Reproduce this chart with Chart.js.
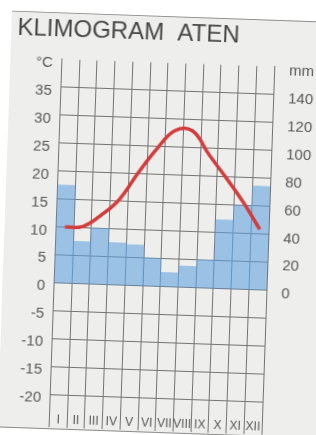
<!DOCTYPE html>
<html>
<head>
<meta charset="utf-8">
<script src="https://cdn.jsdelivr.net/npm/chart.js@4.4.0/dist/chart.umd.min.js"></script>
<style>
  html, body { margin: 0; padding: 0; background: #ffffff; overflow: hidden; }
  #page { position: absolute; left: 0; top: 0; width: 316px; height: 435px;
          transform: rotate(2deg); transform-origin: 162px 245px; }
  #paper { position: absolute; left: 4px; top: 16px; width: 340px; height: 415px;
           background: #eeeeec; border-top: 1px solid #8c8c8c; border-bottom: 1px solid #8c8c8c; }
  #klimogram { position: absolute; left: 0; top: 0; }
</style>
</head>
<body>
<div id="page">
  <div id="paper"></div>
  <canvas id="klimogram" width="316" height="435"></canvas>
</div>
<script>
// Athens climate diagram
const months = ['I', 'II', 'III', 'IV', 'V', 'VI', 'VII', 'VIII', 'IX', 'X', 'XI', 'XII'];
const temperature = [10, 10.2, 12.3, 15.2, 20, 24.4, 27.9, 28, 23.8, 19.8, 15.6, 10.8]; // °C
const precipitation = [70, 30, 40, 30, 29, 20, 10, 15, 20, 49, 60, 74]; // mm

const tempTicks = [-20, -15, -10, -5, 0, 5, 10, 15, 20, 25, 30, 35];
const rainTicks = [0, 20, 40, 60, 80, 100, 120, 140];
const tempUnit = '°C';
const rainUnit = 'mm';

const gridColor = '#737373';
const textColor = '#585858';
const tickFont = { family: "'Liberation Sans', Arial, sans-serif", size: 15 };

new Chart(document.getElementById('klimogram').getContext('2d'), {
    type: 'bar',
    data: {
        labels: months,
        datasets: [{
            type: 'line',
            label: 'temperatura',
            data: temperature,
            yAxisID: 'y',
            borderColor: '#d43c3c',
            borderWidth: 3.5,
            tension: 0.4,
            pointRadius: 0,
            order: 0
        }, {
            type: 'bar',
            label: 'padavine',
            data: precipitation,
            yAxisID: 'y2',
            backgroundColor: 'rgba(95, 160, 222, 0.58)',
            borderWidth: 0,
            barPercentage: 1,
            categoryPercentage: 1,
            order: 1
        }]
    },
    options: {
        responsive: false,
        animation: false,
        devicePixelRatio: 1,
        layout: { padding: { left: 10, top: 0, right: 0, bottom: 0 } },
        plugins: {
            legend: { display: false },
            tooltip: { enabled: false },
            title: {
                display: true,
                text: 'KLIMOGRAM  ATEN',
                align: 'start',
                color: '#464646',
                font: { family: "'Liberation Sans', Arial, sans-serif", size: 24, weight: 'normal' },
                padding: { top: 19, bottom: 15 }
            }
        },
        scales: {
            x: {
                grid: { color: gridColor, offset: true, drawTicks: true, tickLength: 33 },
                border: { color: gridColor },
                ticks: {
                    color: textColor,
                    font: { family: "'Liberation Sans', Arial, sans-serif", size: 12 },
                    padding: -15,
                    maxRotation: 0,
                    autoSkip: false
                },
                afterFit(s) { s.height = 37; }
            },
            y: {
                position: 'left',
                min: -20,
                max: 40,
                afterBuildTicks(s) { s.ticks = tempTicks.concat([40]).map(v => ({ value: v })); },
                ticks: {
                    color: textColor,
                    font: tickFont,
                    padding: 9,
                    labelOffset: 4,
                    callback: v => (v === 40 ? tempUnit : v)
                },
                grid: {
                    color: ctx => (ctx.tick && ctx.tick.value === 40 ? 'rgba(0,0,0,0)' : gridColor),
                    drawTicks: false
                },
                border: { color: gridColor },
                afterFit(s) { s.width = 45.5; }
            },
            y2: {
                position: 'right',
                min: -80,
                max: 160,
                afterBuildTicks(s) { s.ticks = rainTicks.concat([160]).map(v => ({ value: v })); },
                ticks: {
                    color: textColor,
                    font: tickFont,
                    padding: 7,
                    labelOffset: 4,
                    callback: v => (v === 160 ? rainUnit : v)
                },
                grid: { display: false },
                border: { color: gridColor },
                afterFit(s) { s.width = 48; }
            }
        }
    }
});
</script>
</body>
</html>
